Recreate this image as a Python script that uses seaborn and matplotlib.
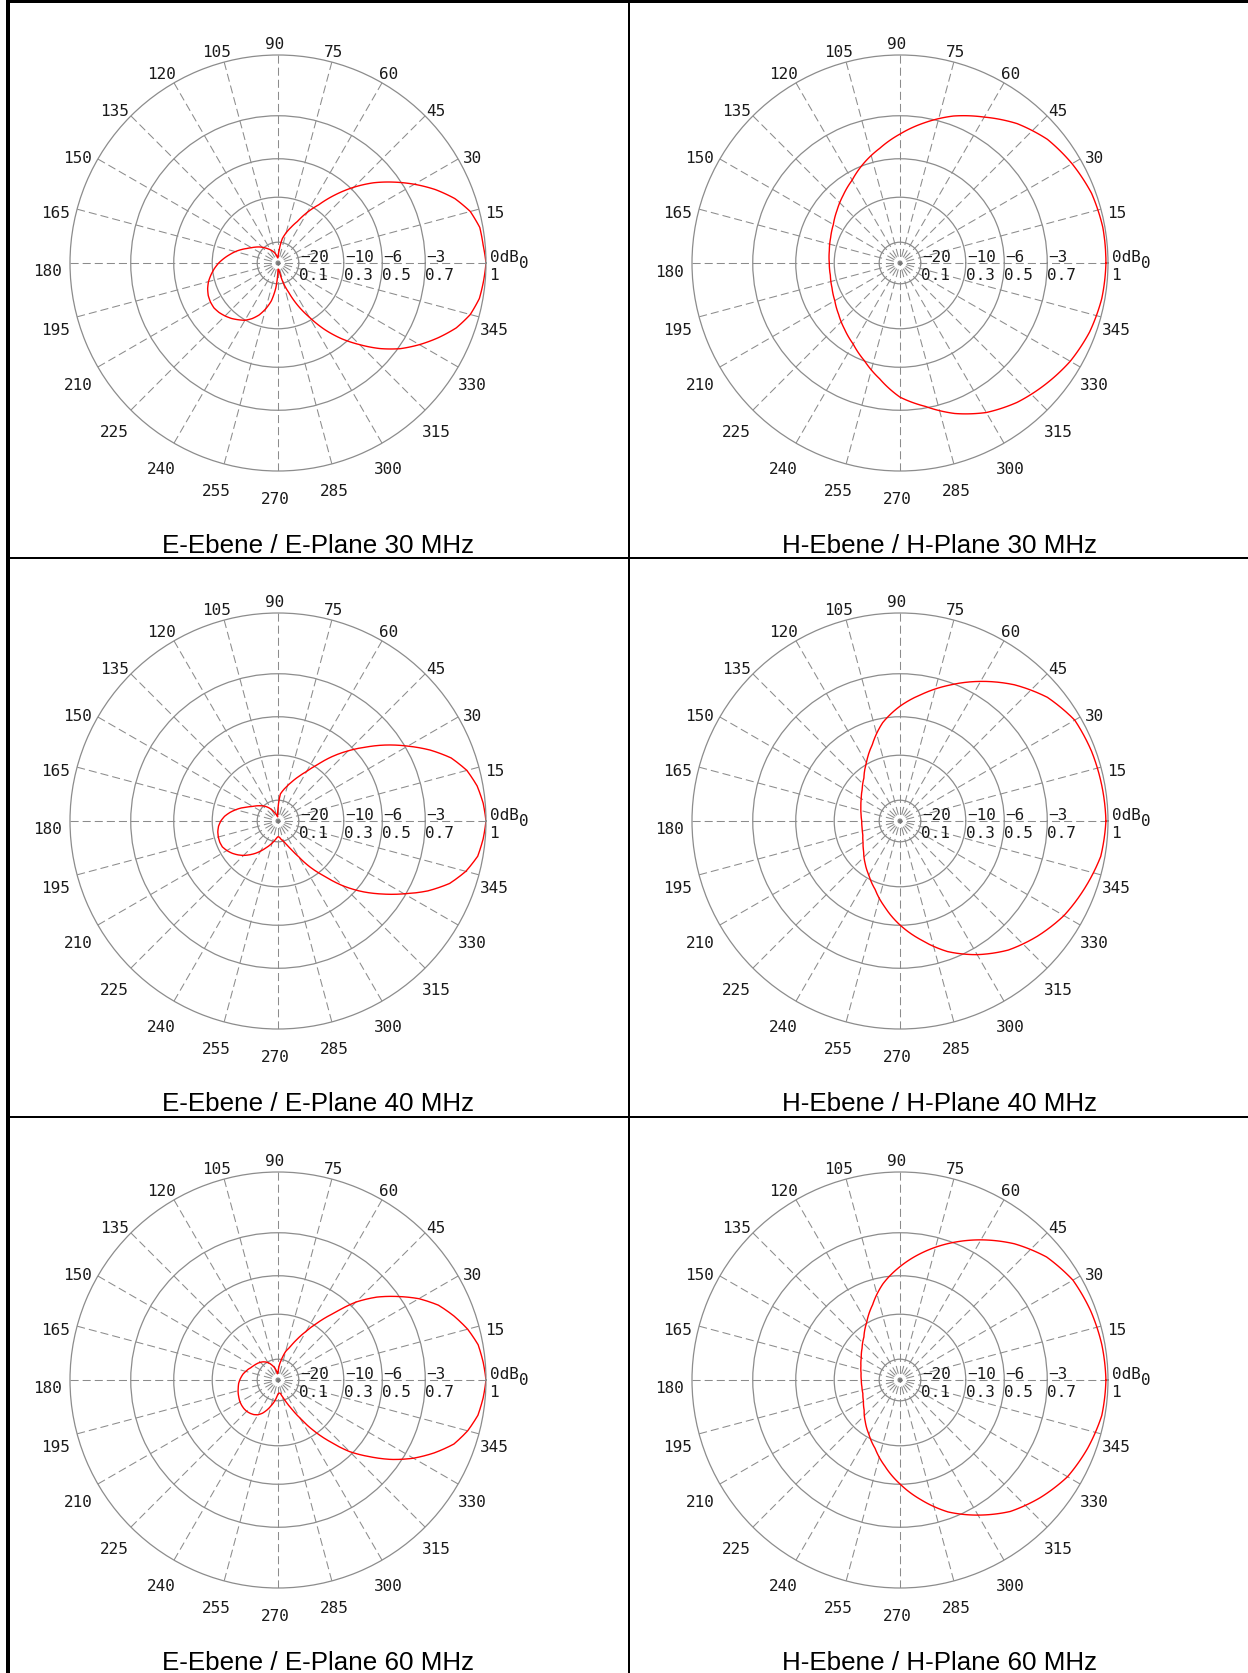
import numpy as np
import pandas as pd
import matplotlib
matplotlib.use("Agg")
import matplotlib.pyplot as plt
from matplotlib.patches import Rectangle
import seaborn as sns

# ---------------- data (relative field strength, linear 0..1) ----------------
ANGLE_E_DEG = np.arange(0, 360, 5)
ANGLE_H_DEG = np.arange(0, 360, 10)

E30 = [1.00, 0.99, 0.985, 0.957, 0.905, 0.835, 0.757, 0.678, 0.600, 0.515,
       0.428, 0.342, 0.281, 0.220, 0.182, 0.150, 0.118, 0.060, 0.025, 0.025,
       0.035, 0.045, 0.055, 0.064, 0.073, 0.083, 0.094, 0.107, 0.120, 0.133,
       0.147, 0.165, 0.188, 0.212, 0.235, 0.260, 0.285, 0.307, 0.327, 0.346,
       0.360, 0.370, 0.375, 0.376, 0.370, 0.360, 0.348, 0.333, 0.318, 0.295,
       0.266, 0.228, 0.185, 0.120, 0.030, 0.030, 0.045, 0.100, 0.150, 0.225,
       0.300, 0.390, 0.475, 0.555, 0.640, 0.718, 0.785, 0.850, 0.912, 0.957,
       0.983, 0.992]

E40 = [1.00, 0.99, 0.972, 0.940, 0.886, 0.807, 0.720, 0.637, 0.553, 0.477,
       0.404, 0.330, 0.275, 0.236, 0.203, 0.175, 0.152, 0.130, 0.060, 0.020,
       0.025, 0.032, 0.040, 0.052, 0.065, 0.078, 0.091, 0.103, 0.114, 0.127,
       0.140, 0.160, 0.185, 0.210, 0.235, 0.258, 0.275, 0.287, 0.294, 0.297,
       0.298, 0.295, 0.284, 0.270, 0.253, 0.234, 0.212, 0.190, 0.167, 0.145,
       0.127, 0.110, 0.096, 0.082, 0.075, 0.078, 0.090, 0.100, 0.120, 0.150,
       0.198, 0.272, 0.345, 0.440, 0.528, 0.612, 0.700, 0.795, 0.878, 0.935,
       0.975, 0.990]

E60 = [1.00, 0.99, 0.977, 0.944, 0.900, 0.851, 0.782, 0.700, 0.620, 0.530,
       0.420, 0.340, 0.270, 0.215, 0.168, 0.142, 0.103, 0.072, 0.035, 0.030,
       0.045, 0.060, 0.072, 0.085, 0.097, 0.106, 0.114, 0.120, 0.126, 0.131,
       0.137, 0.142, 0.152, 0.160, 0.170, 0.177, 0.184, 0.190, 0.194, 0.199,
       0.203, 0.207, 0.211, 0.213, 0.214, 0.213, 0.209, 0.203, 0.193, 0.176,
       0.153, 0.128, 0.107, 0.085, 0.066, 0.063, 0.065, 0.083, 0.110, 0.150,
       0.210, 0.295, 0.385, 0.487, 0.573, 0.666, 0.752, 0.829, 0.900, 0.944,
       0.976, 0.990]

H30 = [0.99, 0.99, 0.98, 0.955, 0.925, 0.875, 0.81, 0.752, 0.685, 0.62,
       0.56, 0.51, 0.46, 0.425, 0.395, 0.37, 0.355, 0.345, 0.34, 0.34,
       0.348, 0.362, 0.385, 0.415, 0.45, 0.50, 0.565, 0.645, 0.70, 0.77,
       0.83, 0.875, 0.91, 0.945, 0.97, 0.985]

H40 = [0.99, 0.985, 0.98, 0.97, 0.925, 0.855, 0.775, 0.695, 0.62, 0.552,
       0.48, 0.39, 0.323, 0.27, 0.237, 0.215, 0.20, 0.19, 0.184, 0.185,
       0.19, 0.205, 0.228, 0.262, 0.30, 0.35, 0.42, 0.50, 0.58, 0.668,
       0.742, 0.81, 0.862, 0.91, 0.945, 0.98]

H60 = [0.99, 0.985, 0.975, 0.96, 0.92, 0.855, 0.778, 0.70, 0.622, 0.545,
       0.47, 0.385, 0.32, 0.27, 0.238, 0.215, 0.20, 0.19, 0.186, 0.186,
       0.19, 0.203, 0.225, 0.26, 0.30, 0.35, 0.42, 0.50, 0.585, 0.675,
       0.75, 0.825, 0.88, 0.93, 0.96, 0.985]

TITLES = ["E-Ebene / E-Plane 30 MHz", "H-Ebene / H-Plane 30 MHz",
          "E-Ebene / E-Plane 40 MHz", "H-Ebene / H-Plane 40 MHz",
          "E-Ebene / E-Plane 60 MHz", "H-Ebene / H-Plane 60 MHz"]

ANGLE_LABELS = list(range(15, 360, 15))
RING_DB = [-20, -10, -6, -3, 0]
DB_LABELS = ["\u221220", "\u221210", "\u22126", "\u22123", "0dB"]
AMP_LABELS = ["0.1", "0.3", "0.5", "0.7", "1"]

# ---------------- style ----------------
sns.set_theme(style="white")
plt.rcParams["font.family"] = ["DejaVu Sans"]
plt.rcParams["lines.scale_dashes"] = False

W, H, DPI = 1248, 1674, 100
fig = plt.figure(figsize=(W / DPI, H / DPI), dpi=DPI, facecolor="white")

R = 208
COL_X = [278, 900]
ROW_Y = [264, 822, 1381]
CELL_X = [318, 939]
TITLE_BASE = [553, 1111, 1670]

GRID = "#8c8c8c"
MONO = "DejaVu Sans Mono"
FS = 11.5
TXT = "#1a1a1a"
CW = 0.602 * FS * DPI / 72.0
RING_R = [10 ** (d / 20.0) for d in RING_DB]

panels = [
    (0, 0, ANGLE_E_DEG, E30, TITLES[0]),
    (0, 1, ANGLE_H_DEG, H30, TITLES[1]),
    (1, 0, ANGLE_E_DEG, E40, TITLES[2]),
    (1, 1, ANGLE_H_DEG, H40, TITLES[3]),
    (2, 0, ANGLE_E_DEG, E60, TITLES[4]),
    (2, 1, ANGLE_H_DEG, H60, TITLES[5]),
]

for row, col, ang, rr, title in panels:
    cx, cy = COL_X[col], ROW_Y[row]
    ax = fig.add_axes([(cx - R) / W, 1 - (cy + R) / H, 2 * R / W, 2 * R / H],
                      projection="polar")
    ax.set_facecolor("none")
    ax.set_axisbelow(True)
    ax.set_xticks(np.deg2rad(np.arange(0, 360, 15)))
    ax.set_xticklabels([])
    ax.set_yticks(RING_R[:-1])
    ax.set_yticklabels([])
    ax.tick_params(length=0)
    ax.xaxis.grid(True, color=GRID, linewidth=0.75, linestyle=(4.0, (5.8, 2.9)))
    ax.yaxis.grid(True, color=GRID, linewidth=0.9, linestyle="-")
    ax.spines["polar"].set_color(GRID)
    ax.spines["polar"].set_linewidth(0.9)

    df = pd.DataFrame({"theta": np.deg2rad(np.append(ang, 360)),
                       "r": np.append(rr, rr[0])})
    sns.lineplot(data=df, x="theta", y="r", sort=False, estimator=None,
                 color="#ff0000", linewidth=1.0, ax=ax)
    line = ax.lines[-1]
    line.recache()
    line._path._interpolation_steps = 12
    line._transformed_path = None
    ax.set_xlabel("")
    ax.set_ylabel("")
    ax.set_xlim(0, 2 * np.pi)
    ax.set_ylim(0, 1)
    ax.scatter([0], [0], s=6, color="#777777", zorder=1, linewidths=0)

    for d in ANGLE_LABELS:
        ax.annotate(str(d), xy=(np.deg2rad(d), 1.094), xytext=(-3, -8),
                    textcoords="offset pixels", ha="center", va="center",
                    fontsize=FS, family=MONO, color=TXT, annotation_clip=False)

    for ring, top, bot in zip(RING_R, DB_LABELS, AMP_LABELS):
        dx = 4 if ring == 1 else 1
        ax.annotate(top, xy=(0, ring), xytext=(dx, 2), textcoords="offset pixels",
                    ha="left", va="baseline", fontsize=FS, family=MONO,
                    color=TXT, annotation_clip=False)
        ax.annotate(bot, xy=(0, ring), xytext=(dx - 1, -4), textcoords="offset pixels",
                    ha="left", va="top", fontsize=FS, family=MONO,
                    color=TXT, annotation_clip=False)
    ax.annotate("0", xy=(0, 1.0), xytext=(4 + 3 * CW, -4), textcoords="offset pixels",
                ha="left", va="baseline", fontsize=FS, family=MONO,
                color=TXT, annotation_clip=False)

    fig.text(CELL_X[col] / W, 1 - TITLE_BASE[row] / H, title, ha="center",
             va="baseline", fontsize=18.7, family="Liberation Sans", color="black")


def rect(x0, y0, x1, y1):
    fig.add_artist(Rectangle((x0 / W, 1 - y1 / H), (x1 - x0) / W, (y1 - y0) / H,
                             transform=fig.transFigure, facecolor="black",
                             edgecolor="none", zorder=20))


rect(6, 0, W, 3.5)        # top border
rect(6, 0, 9.5, H)        # left border
rect(628.3, 0, 629.8, H)  # middle divider
rect(6, 558.3, W, 559.8)  # row dividers
rect(6, 1117.3, W, 1118.8)

fig.savefig("out.png", dpi=DPI, facecolor="white")
